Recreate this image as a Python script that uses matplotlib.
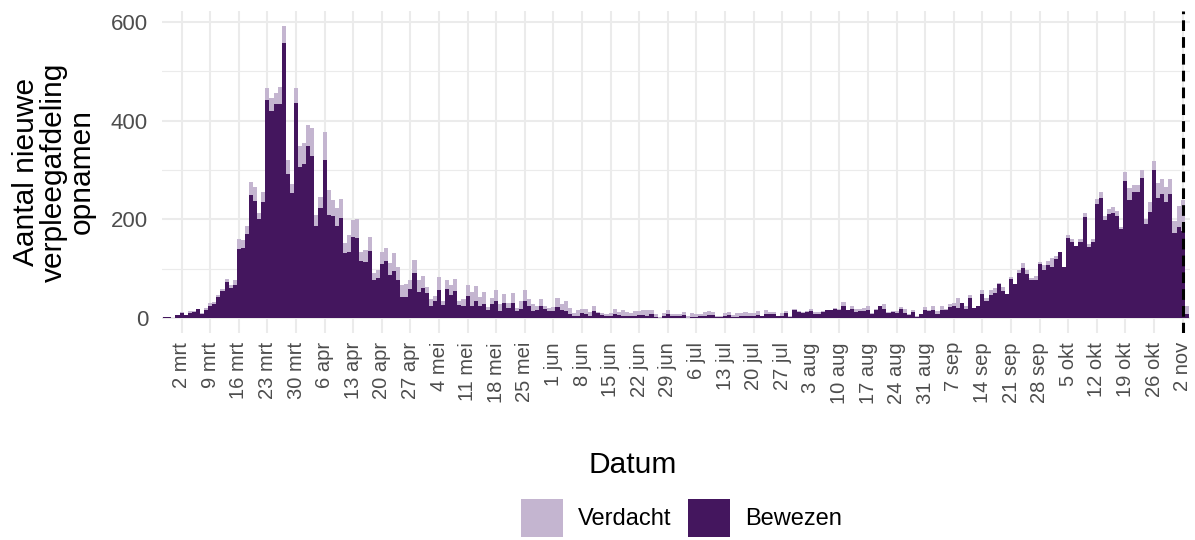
import numpy as np
import pandas as pd
import matplotlib
matplotlib.use("Agg")
import matplotlib.pyplot as plt
import matplotlib.dates as mdates

plt.rcParams['font.family'] = ['Liberation Sans', 'DejaVu Sans']

# Daily new ward admissions, 27 Feb 2020 - 3 Nov 2020
dates = pd.date_range("2020-02-27", "2020-11-03", freq="D")

bewezen = [
    3, 3, 0, 7, 10, 7, 11, 12, 19, 8,
    16, 25, 29, 43, 55, 74, 62, 68, 140, 143,
    170, 249, 238, 200, 236, 442, 420, 433, 434, 556,
    292, 254, 435, 306, 312, 349, 328, 186, 224, 320,
    210, 207, 186, 203, 132, 134, 164, 163, 116, 114,
    136, 78, 81, 109, 116, 87, 95, 77, 43, 43,
    59, 91, 53, 61, 51, 26, 36, 57, 28, 59,
    47, 55, 28, 24, 45, 24, 36, 24, 30, 16,
    30, 36, 15, 31, 20, 31, 14, 19, 35, 25,
    15, 16, 25, 18, 14, 15, 23, 17, 15, 8,
    4, 5, 11, 8, 5, 15, 10, 7, 4, 5,
    9, 6, 4, 4, 4, 5, 6, 6, 4, 8,
    2, 0, 4, 8, 4, 4, 5, 7, 0, 3,
    3, 4, 5, 6, 6, 3, 3, 5, 6, 3,
    3, 5, 4, 5, 4, 7, 4, 8, 8, 8,
    4, 4, 11, 3, 16, 12, 10, 12, 15, 9,
    9, 12, 16, 17, 19, 16, 26, 16, 19, 12,
    14, 14, 16, 8, 17, 25, 19, 11, 12, 11,
    19, 11, 7, 12, 3, 8, 16, 14, 16, 8,
    16, 17, 22, 26, 20, 32, 19, 41, 20, 24,
    49, 36, 47, 51, 69, 55, 49, 79, 69, 91,
    101, 89, 77, 78, 109, 97, 108, 103, 120, 134,
    103, 162, 154, 146, 154, 205, 145, 155, 231, 243,
    199, 211, 214, 208, 180, 278, 239, 255, 255, 284,
    191, 215, 301, 243, 251, 236, 251, 173, 184, 177,
    8,
]

verdacht = [
    0, 0, 1, 0, 2, 0, 3, 2, 0, 3,
    5, 7, 4, 5, 5, 5, 5, 9, 20, 15,
    17, 27, 28, 14, 20, 24, 26, 23, 34, 36,
    28, 18, 30, 43, 43, 43, 57, 24, 21, 57,
    50, 32, 38, 38, 20, 34, 34, 38, 18, 24,
    28, 13, 16, 25, 26, 24, 37, 26, 24, 26,
    18, 28, 24, 24, 12, 14, 10, 26, 8, 18,
    20, 24, 8, 16, 22, 30, 30, 20, 24, 6,
    12, 22, 15, 18, 11, 20, 7, 16, 22, 14,
    14, 10, 14, 6, 6, 7, 18, 13, 20, 12,
    6, 11, 7, 10, 7, 11, 3, 3, 4, 5,
    9, 7, 12, 9, 6, 9, 9, 10, 12, 8,
    6, 2, 7, 8, 4, 4, 3, 5, 4, 7,
    5, 4, 7, 8, 6, 1, 2, 5, 6, 3,
    7, 5, 8, 5, 6, 7, 1, 8, 4, 4,
    1, 6, 3, 1, 2, 2, 2, 2, 3, 3,
    3, 2, 0, 0, 1, 2, 7, 1, 5, 6,
    4, 6, 10, 3, 2, 1, 10, 2, 2, 4,
    4, 7, 1, 4, 1, 1, 6, 2, 10, 6,
    8, 2, 8, 6, 22, 0, 5, 6, 0, 0,
    8, 6, 10, 10, 2, 8, 1, 5, 0, 6,
    10, 8, 5, 7, 5, 10, 8, 19, 6, 0,
    1, 6, 6, 1, 6, 8, 5, 5, 10, 12,
    8, 10, 11, 9, 4, 18, 25, 15, 15, 16,
    9, 21, 17, 30, 30, 29, 30, 24, 44, 62,
    16,
]

tick_dates = pd.date_range("2020-03-02", "2020-11-02", freq="7D")
tick_labels = [
    "2 mrt", "9 mrt", "16 mrt", "23 mrt", "30 mrt",
    "6 apr", "13 apr", "20 apr", "27 apr",
    "4 mei", "11 mei", "18 mei", "25 mei",
    "1 jun", "8 jun", "15 jun", "22 jun", "29 jun",
    "6 jul", "13 jul", "20 jul", "27 jul",
    "3 aug", "10 aug", "17 aug", "24 aug", "31 aug",
    "7 sep", "14 sep", "21 sep", "28 sep",
    "5 okt", "12 okt", "19 okt", "26 okt",
    "2 nov",
]
y_ticks = [0, 200, 400, 600]
y_minor = [100, 300, 500]
cutoff = pd.Timestamp("2020-11-02")

COLOR_BEWEZEN = "#44165E"
COLOR_VERDACHT = "#C4B5D0"
GRID = "#EBEBEB"
TICK_TEXT = "#4D4D4D"

W, H = 1195, 540
fig = plt.figure(figsize=(W / 100, H / 100), dpi=100)
left, right, top, bottom = 162, 1190, 11, 333
ax = fig.add_axes([left / W, 1 - bottom / H, (right - left) / W, (bottom - top) / H])

x = mdates.date2num(dates)
bew = np.array(bewezen, dtype=float)
ver = np.array(verdacht, dtype=float)

bars_b = ax.bar(x, bew, width=1.0, color=COLOR_BEWEZEN, linewidth=0, zorder=2)
bars_v = ax.bar(x, ver, bottom=bew, width=1.0, color=COLOR_VERDACHT, linewidth=0, zorder=2)

ax.axvline(mdates.date2num(cutoff), color="black", linestyle=(0, (3.5, 2)),
           linewidth=2.2, zorder=3)

ax.set_xlim(x[0] - 0.8, x[-1] + 0.8)
ax.set_ylim(-29.6, 621.6)

ax.set_xticks(mdates.date2num(tick_dates))
ax.set_xticklabels(tick_labels, rotation=90, ha="center", va="top")
ax.set_yticks(y_ticks)
ax.set_yticks(y_minor, minor=True)
ax.set_yticklabels([str(v) for v in y_ticks])

ax.set_axisbelow(True)
ax.grid(which="major", color=GRID, linewidth=1.5)
ax.grid(which="minor", axis="y", color=GRID, linewidth=0.8)
ax.tick_params(axis="both", which="both", length=0, colors=TICK_TEXT)
ax.tick_params(axis="x", pad=6.5, labelsize=14.5)
ax.tick_params(axis="y", pad=10, labelsize=16)
for s in ax.spines.values():
    s.set_visible(False)

fig.text(633 / W, 1 - 465 / H, "Datum", ha="center", va="center", fontsize=21.5)
fig.text(54 / W, 1 - 172 / H, "Aantal nieuwe\nverpleegafdeling\nopnamen",
         rotation=90, ha="center", va="center", multialignment="center",
         fontsize=21.5, linespacing=1.0)

fig.legend(handles=[bars_v, bars_b], labels=["Verdacht", "Bewezen"],
           loc="upper center", bbox_to_anchor=(681.5 / W, 1 - 499 / H),
           ncol=2, frameon=False, fontsize=17,
           handlelength=1.8, handleheight=2.1, handletextpad=0.63,
           columnspacing=0.68, borderpad=0, borderaxespad=0)

fig.savefig("out.png", dpi=100, facecolor="white")
